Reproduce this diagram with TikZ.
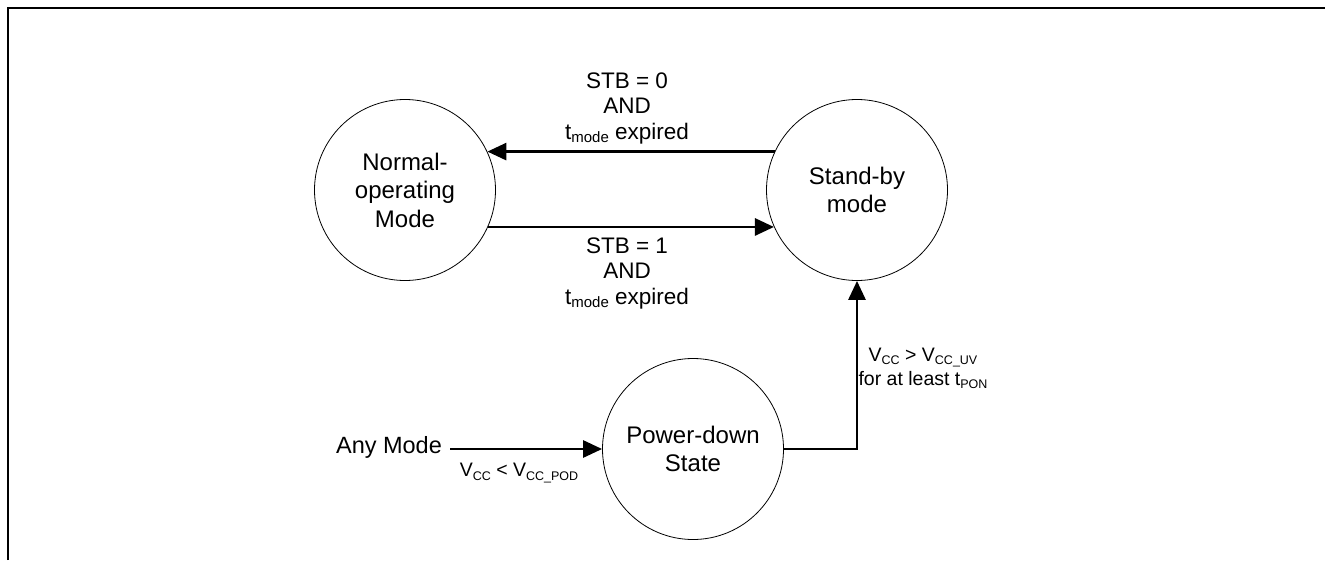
\documentclass[tikz,border=0pt]{standalone}
\usepackage{fontspec}
\setmainfont{Liberation Sans}
\usetikzlibrary{arrows.meta}
\newcommand\lowsub[2][15]{\raisebox{-0.3ex}{\fontsize{#1}{#1}\selectfont #2}}
\tikzset{
  state/.style={circle, draw, line width=0.8pt, minimum size=181pt, inner sep=0pt, align=center,
    font=\fontsize{24}{28.5}\selectfont},
  lbl/.style={align=center, font=\fontsize{22.5}{25.5}\selectfont, inner sep=0pt},
  vlbl/.style={align=center, font=\fontsize{19.5}{24}\selectfont, inner sep=0pt},
  arr/.style={line width=2.8pt, -{Triangle[length=19pt,width=17pt]}},
}
\begin{document}
\begin{tikzpicture}[x=1pt,y=-1pt]
\useasboundingbox (0,0) rectangle (1325,560);
\draw[line width=1.8pt] (8,560) -- (8,8) -- (1325,8);
\node[state] (nm) at (405,190) {Normal-\\operating\\Mode};
\node[state] (sb) at (857,190) {Stand-by\\mode};
\node[state] (pd) at (693,449) {Power-down\\State};
\node[lbl, font=\fontsize{23.5}{26}\selectfont, inner xsep=8pt] (any) at (389,447) {Any Mode};
\draw[arr] (sb.155) -- (nm.25);
\draw[arr] (nm.-24) -- (sb.204);
\draw[arr] (any.east |- pd.west) -- (pd.west);
\draw[arr] (pd.east) -| (sb.south);
\node[lbl] (l1) at (627,108) {STB = 0\\AND\\t\lowsub{mode} expired};
\node[lbl] (l2) at (627,273) {STB = 1\\AND\\t\lowsub{mode} expired};
\node[vlbl] (l3) at (923,368) {V\lowsub[12.5]{CC} > V\lowsub[12.5]{CC\_UV}\\for at least t\lowsub[12.5]{PON}};
\node[vlbl] (l4) at (519,473) {V\lowsub[12.5]{CC} < V\lowsub[12.5]{CC\_POD}};
\end{tikzpicture}
\end{document}
